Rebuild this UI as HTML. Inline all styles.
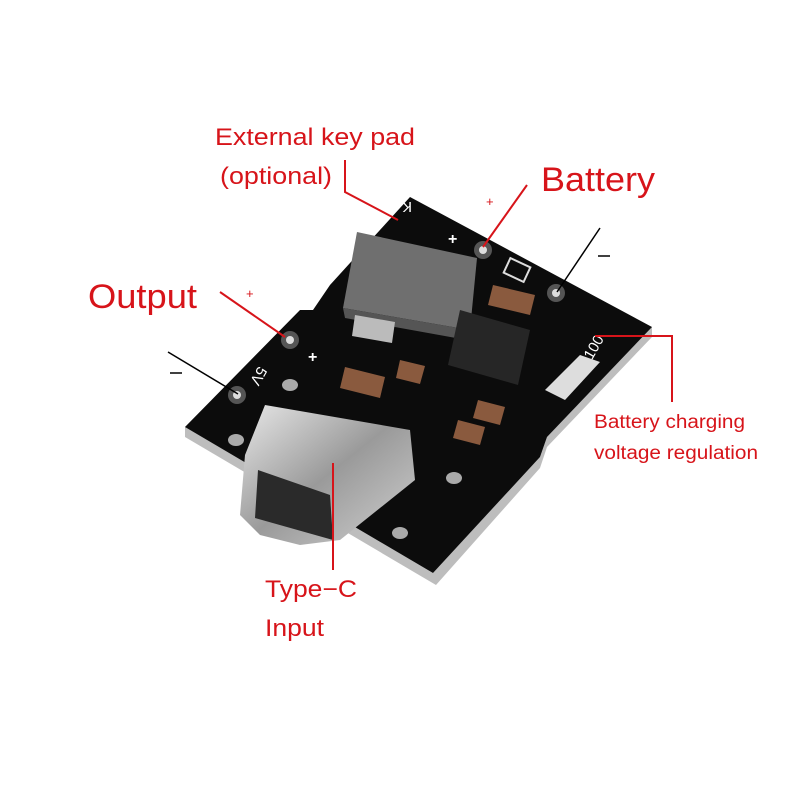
<!DOCTYPE html>
<html><head><meta charset="utf-8"><style>
html,body{margin:0;padding:0;background:#fff;}
svg{display:block}
text{font-family:"Liberation Sans",sans-serif;}
</style></head><body>
<svg width="800" height="800" viewBox="0 0 800 800" xmlns="http://www.w3.org/2000/svg">
<defs>
<linearGradient id="usb" x1="0" y1="0" x2="1" y2="1">
<stop offset="0" stop-color="#e8e8e8"/><stop offset="0.5" stop-color="#9a9a9a"/><stop offset="1" stop-color="#d0d0d0"/>
</linearGradient>
</defs>
<rect width="800" height="800" fill="#fff"/>
<polygon points="185,427 185,437 436,585 540,468 547,447 652,337 652,327 547,437 540,457 433,573" fill="#bdbdbd"/>
<polygon points="410,197 652,327 547,437 540,457 433,573 185,427 300,310 313,310 330,285" fill="#0c0c0c"/>
<polygon points="357,232 477,258 470,330 343,308" fill="#6f6f6f"/>
<polygon points="343,308 470,330 467,340 345,318" fill="#555"/>
<polygon points="355,315 395,322 392,343 352,336" fill="#bbb"/>
<polygon points="460,310 530,330 518,385 448,365" fill="#262626"/>
<circle cx="483" cy="250" r="9" fill="#555"/><circle cx="483" cy="250" r="4" fill="#ddd"/>
<circle cx="556" cy="293" r="9" fill="#555"/><circle cx="556" cy="293" r="4" fill="#ddd"/>
<circle cx="290" cy="340" r="9" fill="#555"/><circle cx="290" cy="340" r="4" fill="#ddd"/>
<circle cx="237" cy="395" r="9" fill="#555"/><circle cx="237" cy="395" r="4" fill="#ddd"/>
<ellipse cx="236" cy="440" rx="8" ry="6" fill="#aaa"/>
<ellipse cx="290" cy="385" rx="8" ry="6" fill="#aaa"/>
<ellipse cx="454" cy="478" rx="8" ry="6" fill="#aaa"/>
<ellipse cx="400" cy="533" rx="8" ry="6" fill="#aaa"/>
<polygon points="345,367 385,377 380,398 340,388" fill="#8a5a3e"/>
<polygon points="400,360 425,366 420,384 396,378" fill="#8a5a3e"/>
<polygon points="493,285 535,295 530,315 488,305" fill="#8a5a3e"/>
<polygon points="478,400 505,407 500,425 473,418" fill="#8a5a3e"/>
<polygon points="458,420 485,427 480,445 453,438" fill="#8a5a3e"/>
<polygon points="545,390 580,355 600,362 565,400" fill="#ddd"/>
<rect x="506" y="262" width="22" height="16" fill="none" stroke="#ddd" stroke-width="2" transform="rotate(25 517 270)"/>
<polygon points="245,455 265,405 410,430 415,480 340,540 300,545 260,535 240,515" fill="url(#usb)"/>
<polygon points="258,470 330,495 333,540 255,518" fill="#2a2a2a"/>
<text x="448" y="244" fill="#fff" font-size="16" font-weight="bold">+</text>
<text x="308" y="362" fill="#fff" font-size="16" font-weight="bold">+</text>
<text x="412" y="214" fill="#fff" font-size="15" transform="rotate(180 412 208)">K</text>
<text x="258" y="378" fill="#fff" font-size="15" transform="rotate(120 262 372)">5V</text>
<text x="580" y="350" fill="#fff" font-size="15" transform="rotate(-60 595 345)">100</text>
<g fill="#d7141a">
<text x="215" y="145" font-size="24" textLength="200" lengthAdjust="spacingAndGlyphs">External key pad</text>
<text x="220" y="184" font-size="24" textLength="112" lengthAdjust="spacingAndGlyphs">(optional)</text>
<text x="541" y="191" font-size="34" textLength="114" lengthAdjust="spacingAndGlyphs">Battery</text>
<text x="88" y="308" font-size="34" textLength="109" lengthAdjust="spacingAndGlyphs">Output</text>
<text x="594" y="428" font-size="19" textLength="151" lengthAdjust="spacingAndGlyphs">Battery charging</text>
<text x="594" y="459" font-size="19" textLength="164" lengthAdjust="spacingAndGlyphs">voltage regulation</text>
<text x="265" y="597" font-size="24" textLength="92" lengthAdjust="spacingAndGlyphs">Type−C</text>
<text x="265" y="636" font-size="24" textLength="59" lengthAdjust="spacingAndGlyphs">Input</text>
<text x="486" y="206" font-size="13">+</text>
<text x="246" y="298" font-size="13">+</text>
</g>
<g fill="none" stroke-width="2">
<polyline points="345,160 345,192 398,220" stroke="#d7141a"/>
<line x1="527" y1="185" x2="483" y2="247" stroke="#d7141a"/>
<line x1="220" y1="292" x2="285" y2="337" stroke="#d7141a"/>
<polyline points="595,336 672,336 672,402" stroke="#d7141a"/>
<line x1="333" y1="463" x2="333" y2="570" stroke="#d7141a"/>
<line x1="600" y1="228" x2="557" y2="292" stroke="#000" stroke-width="1.5"/>
<line x1="168" y1="352" x2="238" y2="394" stroke="#000" stroke-width="1.5"/>
</g>
<line x1="598" y1="256" x2="610" y2="256" stroke="#000" stroke-width="1.5"/>
<line x1="170" y1="373" x2="182" y2="373" stroke="#000" stroke-width="1.5"/>
</svg>
</body></html>
